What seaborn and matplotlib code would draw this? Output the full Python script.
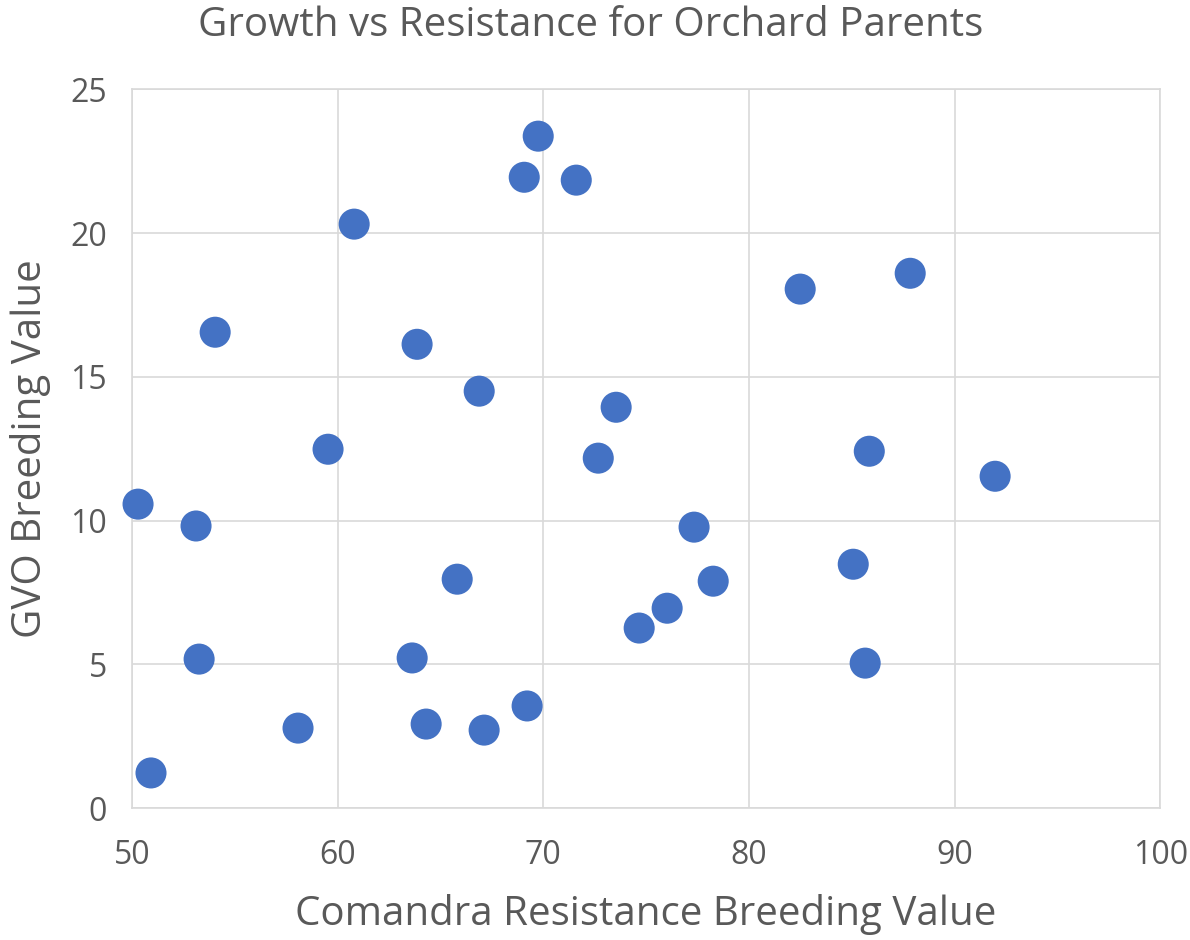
import matplotlib
matplotlib.use("Agg")
import pandas as pd
import seaborn as sns
import matplotlib.pyplot as plt

resistance = [69.75, 69.07, 71.6, 60.8, 87.84, 82.49, 54.04, 63.86, 66.88, 73.54,
              59.53, 85.85, 72.67, 91.97, 50.29, 53.11, 77.33, 85.07, 65.81, 78.26,
              76.02, 74.66, 53.26, 63.62, 85.65, 69.21, 58.07, 64.3, 67.12, 50.92]
gvo = [23.37, 21.94, 21.84, 20.31, 18.6, 18.05, 16.55, 16.13, 14.5, 13.94,
       12.48, 12.41, 12.17, 11.54, 10.57, 9.81, 9.77, 8.48, 7.96, 7.89,
       6.95, 6.26, 5.18, 5.22, 5.04, 3.55, 2.78, 2.92, 2.71, 1.22]

df = pd.DataFrame({"resistance": resistance, "gvo": gvo})

sns.set_style("white")
plt.rcParams['font.family'] = ['Open Sans', 'DejaVu Sans']
text_col = "#595959"

fig = plt.figure(figsize=(11.9, 9.4), dpi=100)
ax = fig.add_axes([0.111, 0.1404, 0.864, 0.7646])

sns.scatterplot(data=df, x="resistance", y="gvo", ax=ax, s=500,
                color="#4472C4", edgecolor="none", zorder=3, clip_on=False)

ax.set_xlim(50, 100)
ax.set_ylim(0, 25)
ax.set_xticks(range(50, 101, 10))
ax.set_yticks(range(0, 26, 5))
ax.grid(True, color="#D9D9D9", linewidth=1.2)
ax.set_axisbelow(True)
for sp in ax.spines.values():
    sp.set_color("#D9D9D9")
    sp.set_linewidth(1.2)
ax.tick_params(axis="both", length=0, labelsize=23, labelcolor=text_col)
ax.tick_params(axis="x", pad=22)
ax.tick_params(axis="y", pad=18)

ax.set_xlabel("Comandra Resistance Breeding Value", fontsize=29, color=text_col, labelpad=16)
ax.set_ylabel("GVO Breeding Value", fontsize=29, color=text_col, labelpad=14)
fig.text(0.496, 0.973, "Growth vs Resistance for Orchard Parents", fontsize=29,
         color=text_col, ha="center", va="center")

fig.savefig("out.png", dpi=100)
